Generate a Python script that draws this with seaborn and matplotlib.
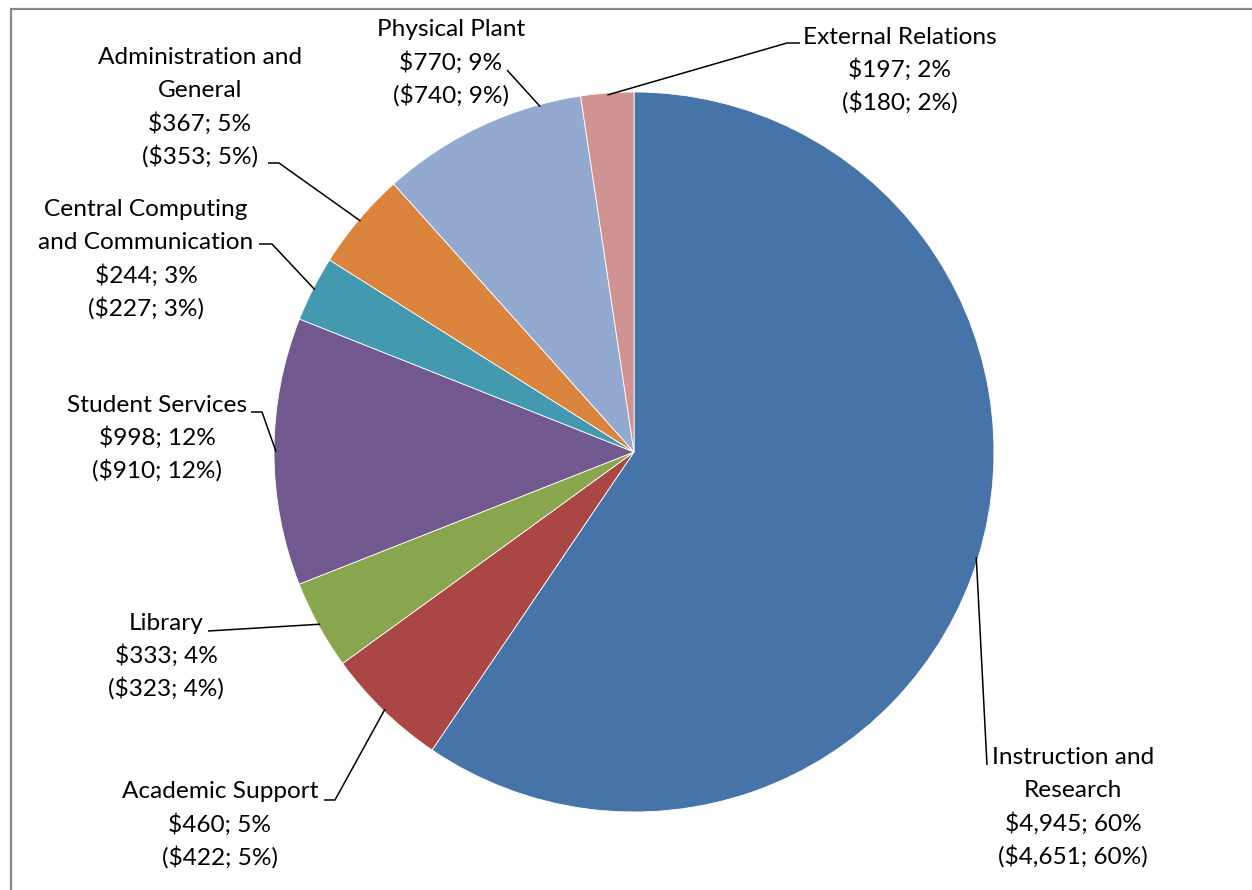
import numpy as np
import matplotlib
matplotlib.use("Agg")
import matplotlib.pyplot as plt
from matplotlib.patches import Rectangle
import seaborn as sns

# Data (values in $ millions, current year and prior year in parentheses)
categories = ["Instruction and\nResearch", "Academic Support", "Library",
              "Student Services", "Central Computing\nand Communication",
              "Administration and\nGeneral", "Physical Plant", "External Relations"]
spend = [4945, 460, 333, 998, 244, 367, 770, 197]
spend_pct = [60, 5, 4, 12, 3, 5, 9, 2]
prior_spend = [4651, 422, 323, 910, 227, 353, 740, 180]
prior_pct = [60, 5, 4, 12, 3, 5, 9, 2]
colors = ["#4674A8", "#AA4744", "#89A54E", "#71598F",
          "#4299B0", "#DB843D", "#93A9CF", "#D19392"]

# Label layout in pixel coords (y measured from top): text centre x, first line y,
# and the leader path from the text towards the slice
label_xy = [(1073, 758), (220, 792), (166, 623), (157, 405),
            (146, 210), (200, 58), (451, 30), (900, 37)]
leader_pts = [[(987, 765)], [(324, 800), (335, 800)], [(208, 631)],
              [(251, 412), (262, 412)], [(259, 244), (272, 244)],
              [(268, 163), (279, 163)], [(507, 70)], [(800, 43), (787, 43)]]
# where the leader meets the arc, relative to the slice mid angle (degrees)
anchor_shift = [0, 0, 0, 0, 0, 0, 10, 0]

W, H = 1252, 890
CX, CY, R = 634, 452, 360
LINE_H = 32.6

sns.set_theme(style="white")
plt.rcParams["font.family"] = ["Lato", "DejaVu Sans"]

fig = plt.figure(figsize=(W / 100, H / 100), dpi=100)
ax = fig.add_axes([0, 0, 1, 1])

ax.pie(spend, colors=colors, startangle=90, counterclock=False,
       center=(CX, H - CY), radius=R,
       wedgeprops=dict(edgecolor="white", linewidth=0.6))

# pie() resets the limits, so set the pixel frame afterwards
ax.set_xlim(0, W)
ax.set_ylim(0, H)
ax.set_aspect("equal")
ax.axis("off")

# outer chart frame (cropped at right/bottom in the original)
ax.add_patch(Rectangle((11, -20), W + 40, H - 9 + 20, fill=False,
                       edgecolor="#888888", linewidth=1.6, clip_on=False))

# fit the font so "Academic Support" is ~196 px wide like the original
probe = ax.text(0, 0, "Academic Support", fontsize=18)
fig.canvas.draw()
w = probe.get_window_extent().width
probe.remove()
fs = 18 * 196 / w

total = float(sum(spend))
cum = np.cumsum([0] + spend)
for i, name in enumerate(categories):
    lines = name.split("\n")
    lines.append(f"${spend[i]:,}; {spend_pct[i]}%")
    lines.append(f"(${prior_spend[i]:,}; {prior_pct[i]}%)")
    x0, y0 = label_xy[i]
    for k, ln in enumerate(lines):
        ax.text(x0, H - (y0 + k * LINE_H), ln, ha="center", va="center",
                fontsize=fs, color="black")

    # leader line to the arc near the slice's mid angle
    mid = (cum[i] + spend[i] / 2) / total * 2 * np.pi + np.radians(anchor_shift[i])
    ax_pt = (CX + (R - 2) * np.sin(mid), CY - (R - 2) * np.cos(mid))
    pts = leader_pts[i] + [ax_pt]
    xs = [p[0] for p in pts]
    ys = [H - p[1] for p in pts]
    ax.plot(xs, ys, color="black", linewidth=1.1, solid_capstyle="butt")

fig.savefig("out.png", dpi=100)
